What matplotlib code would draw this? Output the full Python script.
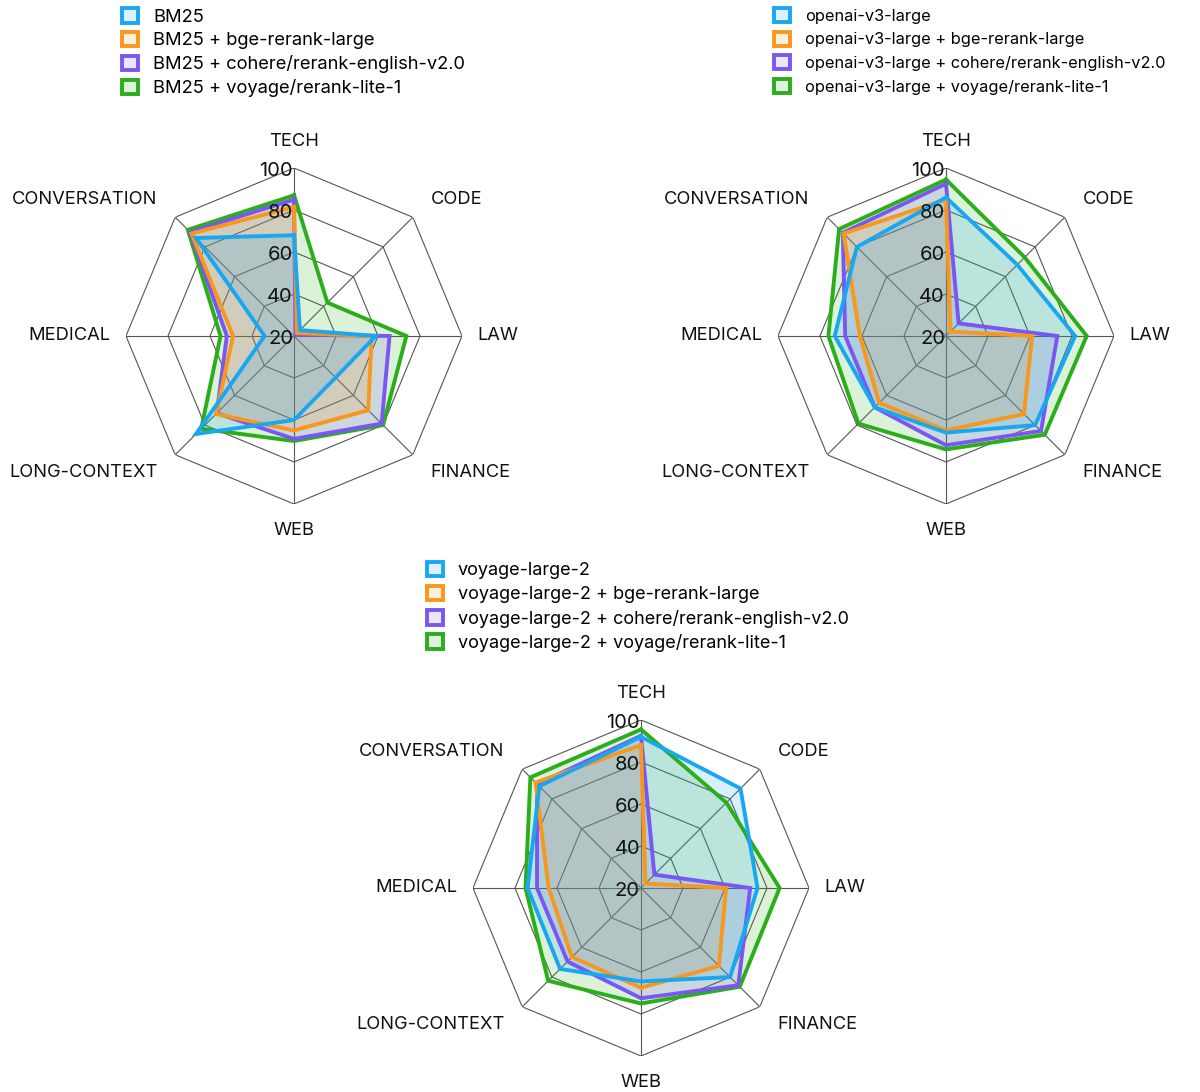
import matplotlib.pyplot as plt
from matplotlib.patches import Patch
from matplotlib.transforms import offset_copy
import numpy as np

plt.rcParams['font.family'] = ['Inter', 'DejaVu Sans']

categories = ['TECH', 'CODE', 'LAW', 'FINANCE', 'WEB', 'LONG-CONTEXT', 'MEDICAL', 'CONVERSATION']
colors = ['#1aa7f2', '#f7981d', '#7a57f2', '#2aae1a']
rerankers = ['', ' + bge-rerank-large', ' + cohere/rerank-english-v2.0', ' + voyage/rerank-lite-1']

# BM25 first stage
bm25 = [68, 24, 59, 48, 60, 86, 34, 86]
bm25_bge = [81.5, 22, 57, 70, 65, 72.5, 49, 89]
bm25_cohere = [85, 21, 65.5, 79, 69, 72, 52, 90]
bm25_voyage = [87, 42.5, 73.5, 80, 70, 82.5, 55, 91.5]

# openai-v3-large first stage
openai = [86, 68, 81.5, 80, 66, 68, 73, 80]
openai_bge = [85, 23, 61, 72.5, 65, 65, 61, 89]
openai_cohere = [92.5, 28.5, 73, 84, 72, 68, 68, 89.5]
openai_voyage = [94.5, 73, 87, 86.5, 74, 79, 76, 92]

# voyage-large-2 first stage
vl2 = [92, 87, 75.5, 80, 64.5, 74.5, 74, 88.5]
vl2_bge = [88, 23, 60.5, 72.5, 67.5, 66.5, 64, 91]
vl2_cohere = [92.5, 29, 72, 85.5, 72.5, 69.5, 69.5, 90]
vl2_voyage = [95.5, 77.5, 86, 86.5, 75, 82.5, 75, 94.5]

# name, series, chart centre (px), legend corner (px), legend font size
charts = [
    ('BM25', [bm25, bm25_bge, bm25_cohere, bm25_voyage], (294, 336), (122, 8), 13.2),
    ('openai-v3-large', [openai, openai_bge, openai_cohere, openai_voyage], (946, 336), (774, 8), 11.8),
    ('voyage-large-2', [vl2, vl2_bge, vl2_cohere, vl2_voyage], (641, 888), (427, 562), 13.0),
]
levels = [40, 60, 80, 100]
tick_levels = [20, 40, 60, 80, 100]

W, H = 1200, 1092
R = 168
fig = plt.figure(figsize=(W / 100, H / 100), dpi=100)

angles = np.linspace(0, 2 * np.pi, len(categories), endpoint=False)
closed = np.append(angles, angles[0])

for base, series, (cx, cy), (lx, ly), lfs in charts:
    ax = fig.add_axes([(cx - R) / W, 1 - (cy + R) / H, 2 * R / W, 2 * R / H], projection='polar')
    ax.set_theta_zero_location('N')
    ax.set_theta_direction(-1)
    ax.set_ylim(20, 100)
    ax.grid(False)
    ax.spines['polar'].set_visible(False)
    ax.set_xticks([])
    ax.set_yticks([])
    ax.patch.set_alpha(0)

    # octagon grid
    for lv in levels:
        ax.plot(closed, [lv] * len(closed), color='#555555', lw=0.8, zorder=1)
    for a in angles:
        ax.plot([a, a], [20, 100], color='#555555', lw=0.8, zorder=1)

    # green first so the blue line ends on top
    for k in range(3, -1, -1):
        vals = np.append(series[k], series[k][0])
        ax.fill(closed, vals, color=colors[k], alpha=0.17, lw=0, zorder=2)
        ax.plot(closed, vals, color=colors[k], lw=2.8, zorder=3, solid_joinstyle='miter')

    tr = offset_copy(ax.transData, fig=fig, x=-1, y=-3, units='dots')
    for v in tick_levels:
        ax.text(0, v, str(v), ha='right', va='center', fontsize=14.5, color='#111111',
                zorder=5, transform=tr)

    for a, name in zip(angles, categories):
        s = np.sin(a)
        if abs(s) < 0.1:
            ha, r = 'center', 112.5
        elif abs(s) > 0.99:
            ha, r = ('left' if s > 0 else 'right'), 107.5
        else:
            ha, r = ('left' if s > 0 else 'right'), 112
        ax.text(a, r, name, ha=ha, va='center', fontsize=13.2, color='#111111')

    handles = [Patch(facecolor=c + '26', edgecolor=c, lw=2.8) for c in colors]
    labels = [base + r for r in rerankers]
    # keep a 24 px row pitch and ~16 px squares whatever the font size
    fpx = lfs * 100 / 72
    fig.legend(handles, labels, loc='upper left', bbox_to_anchor=(lx / W, 1 - ly / H),
               frameon=False, fontsize=lfs, handlelength=15.5 / fpx, handleheight=15.5 / fpx,
               handletextpad=15.5 / fpx, labelspacing=24 / fpx - 0.98,
               borderaxespad=0, borderpad=0)

plt.savefig('out.png', dpi=100)
